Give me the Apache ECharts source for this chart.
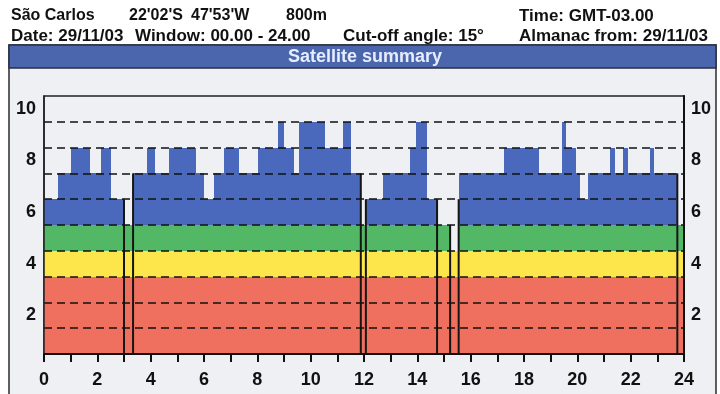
<!DOCTYPE html>
<html>
<head>
<meta charset="utf-8">
<script src="https://cdn.jsdelivr.net/npm/echarts@6/dist/echarts.min.js"></script>
<style>
html, body { margin: 0; padding: 0; background: #ffffff; }
#chart { width: 720px; height: 394px; }
</style>
</head>
<body>
<div id="chart"></div>
<script>
// Number of visible satellites through the day.
// Each step begins at stepStart[i] (hours) and lasts until the next step (the last one runs to 24).
const stepStart = [
  0.00, 0.53, 1.02, 1.71, 2.15, 2.52, 3.00, 3.34, 3.87, 4.17,
  4.68, 5.70, 6.01, 6.39, 6.74, 7.33, 8.04, 8.76, 9.01, 9.36,
  9.57, 10.54, 11.23, 11.53, 11.88, 12.07, 12.73, 13.73, 13.94, 14.38,
  14.74, 15.23, 15.55, 17.25, 18.56, 19.44, 19.56, 19.94, 20.10, 20.40,
  21.22, 21.40, 21.72, 21.90, 22.72, 22.87, 23.75
];
const satCount = [
  6, 7, 8, 7, 8, 6, 5, 7, 8, 7,
  8, 7, 6, 7, 8, 7, 8, 9, 8, 7,
  9, 8, 9, 7, 5, 6, 7, 8, 9, 6,
  5, 4, 7, 8, 7, 9, 8, 7, 6, 7,
  8, 7, 8, 7, 8, 7, 5
];
const dayEnd = 24;

// Black markers at the edges of the low-coverage periods: time (hours) and marker height (satellites)
const edgeTimes = [3.00, 3.34, 11.88, 12.07, 14.74, 15.23, 15.55, 23.75];
const edgeTops  = [6, 7, 7, 6, 6, 5, 6, 7];

// Coverage quality bands, stacked from the bottom
const bandFloor = [0, 3, 4, 5];
const bandCeil  = [3, 4, 5, 10];
const bandColor = ['#ef705f', '#fde64c', '#52b865', '#4a69bd'];

// Axis labelling
const hourLabelStep = 2;
const levelLabels = [2, 4, 6, 8, 10];

const FONT = "'Liberation Sans', Arial, sans-serif";

const segments = stepStart.map((t, i) => [
  t,
  i + 1 < stepStart.length ? stepStart[i + 1] : dayEnd,
  satCount[i]
]);
const edges = edgeTimes.map((t, i) => [t, edgeTops[i]]);

const chart = echarts.init(document.getElementById('chart'), null, { renderer: 'canvas' });

const levelAxisLabel = {
  show: true,
  customValues: levelLabels.map(v => v - 0.5),
  formatter: v => String(Math.round(v + 0.5)),
  color: '#111',
  fontFamily: FONT,
  fontWeight: 'bold',
  fontSize: 18
};

function headerText(x, y, text, size) {
  return { type: 'text', x, y,
           style: { text, fill: '#111', font: `bold ${size}px ${FONT}`, textVerticalAlign: 'middle' } };
}

chart.setOption({
  animation: false,
  backgroundColor: '#ffffff',
  graphic: [
    { type: 'rect', z: -20, shape: { x: 9, y: 45, width: 707, height: 360 },
      style: { fill: '#eef0f3', stroke: '#2b2b2b', lineWidth: 1.5 } },
    { type: 'rect', z: -19, shape: { x: 9, y: 45, width: 707, height: 23 },
      style: { fill: '#4b66ad', stroke: '#2a2f44', lineWidth: 1.5 } },
    { type: 'text', z: -18, x: 365, y: 57,
      style: { text: 'Satellite summary', fill: '#e6edff', font: `bold 18px ${FONT}`,
               textAlign: 'center', textVerticalAlign: 'middle' } },
    headerText(11, 16, 'São Carlos', 16),
    headerText(129, 16, "22'02'S", 16),
    headerText(191, 16, "47'53'W", 16),
    headerText(286, 16, '800m', 16),
    headerText(519, 16, 'Time: GMT-03.00', 17),
    headerText(11, 36, 'Date: 29/11/03', 17),
    headerText(135, 36, 'Window: 00.00 - 24.00', 17),
    headerText(343, 36, 'Cut-off angle: 15°', 17),
    headerText(519, 36, 'Almanac from: 29/11/03', 17)
  ],
  grid: {
    left: 44, right: 36, top: 96, bottom: 40,
    show: true, backgroundColor: 'transparent',
    borderColor: '#222', borderWidth: 1.5
  },
  xAxis: {
    type: 'value', min: 0, max: dayEnd, interval: hourLabelStep, z: 6,
    axisLine: { show: true, onZero: false, lineStyle: { color: '#111', width: 2 } },
    axisTick: { show: true, inside: false, length: 8, lineStyle: { color: '#111', width: 2 } },
    minorTick: { show: true, splitNumber: 2, length: 8, lineStyle: { color: '#111', width: 2 } },
    splitLine: { show: false },
    axisLabel: { color: '#111', fontFamily: FONT, fontWeight: 'bold', fontSize: 18, margin: 17 }
  },
  yAxis: [
    {
      type: 'value', min: 0, max: 10, interval: 1, position: 'left', z: 6,
      axisLine: { show: true, lineStyle: { color: '#222', width: 1.5 } },
      axisTick: { show: false },
      axisLabel: { show: false },
      splitLine: { show: true, showMinLine: false, showMaxLine: false,
                   lineStyle: { color: '#111', width: 1.6, type: [8, 5] } }
    },
    {
      type: 'value', min: 0, max: 10, position: 'left', offset: 0, z: 6,
      axisLine: { show: false }, axisTick: { show: false }, splitLine: { show: false },
      axisLabel: Object.assign({ margin: 8 }, levelAxisLabel)
    },
    {
      type: 'value', min: 0, max: 10, position: 'right', offset: 0, z: 6,
      axisLine: { show: true, lineStyle: { color: '#111', width: 2 } },
      axisTick: { show: false }, splitLine: { show: false },
      axisLabel: Object.assign({ margin: 7 }, levelAxisLabel)
    }
  ],
  series: [
    {
      name: 'coverage',
      type: 'custom',
      xAxisIndex: 0, yAxisIndex: 0,
      encode: { x: [0, 1], y: 2 },
      data: segments,
      clip: true,
      renderItem(params, api) {
        const t0 = api.value(0), t1 = api.value(1), n = api.value(2);
        const children = [];
        bandFloor.forEach((lo, k) => {
          const hi = Math.min(n, bandCeil[k]);
          if (hi <= lo) return;
          // snap to whole pixels so neighbouring steps meet without seams
          const a = api.coord([t0, hi]).map(Math.round);
          const b = api.coord([t1, lo]).map(Math.round);
          children.push({
            type: 'rect',
            shape: { x: a[0], y: a[1], width: b[0] - a[0], height: b[1] - a[1] },
            style: { fill: bandColor[k] }
          });
        });
        return { type: 'group', children };
      }
    },
    {
      name: 'edges',
      type: 'custom',
      xAxisIndex: 0, yAxisIndex: 0,
      encode: { x: 0, y: 1 },
      data: edges,
      z: 4,
      renderItem(params, api) {
        const top = api.coord([api.value(0), api.value(1)]);
        const base = api.coord([api.value(0), 0]);
        return {
          type: 'line',
          shape: { x1: top[0], y1: top[1], x2: base[0], y2: base[1] },
          style: { stroke: '#151515', lineWidth: 2 }
        };
      }
    }
  ]
});
</script>
</body>
</html>
